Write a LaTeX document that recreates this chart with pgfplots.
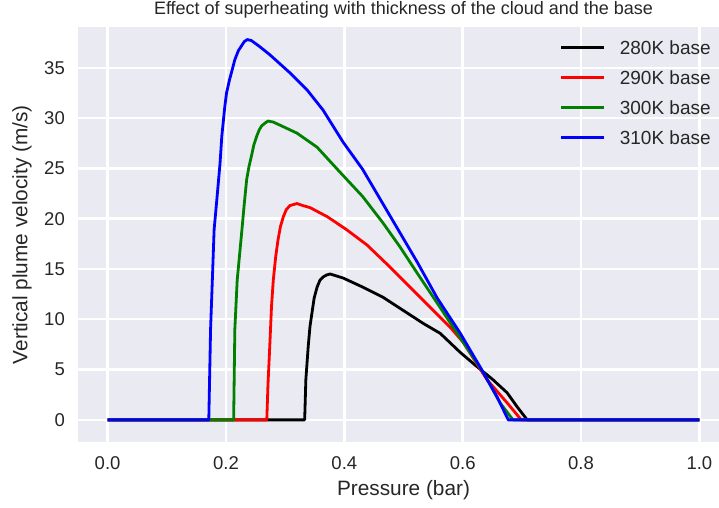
\documentclass[border=0pt]{standalone}
\usepackage{fontspec}
\setmainfont{Liberation Sans}
\usepackage{pgfplots}
\pgfplotsset{compat=1.18}
\definecolor{bg}{RGB}{234,234,242}
\definecolor{tickgray}{gray}{0.15}
\definecolor{mplgreen}{rgb}{0,0.5,0}
\begin{document}
\begin{tikzpicture}
\begin{axis}[
  at={(0pt,0pt)}, anchor=south west,
  scale only axis, width=651pt, height=414.5pt,
  xmin=-0.05, xmax=1.05, ymin=-2.2, ymax=39.0,
  axis background/.style={fill=bg},
  axis line style={draw=none},
  grid=major, major grid style={white, line width=2.4pt},
  major tick length=0pt,
  xtick={0,0.2,0.4,0.6,0.8,1.0},
  xticklabels={0.0,0.2,0.4,0.6,0.8,1.0},
  ytick={0,5,10,15,20,25,30,35},
  /pgf/number format/assume math mode=true,
  ticklabel style={font=\fontsize{18.5}{22}\selectfont, text=tickgray},
  xticklabel style={inner sep=0pt, yshift=-14pt},
  yticklabel style={inner sep=0pt, xshift=-13pt},
  xlabel={Pressure (bar)},
  ylabel={Vertical plume velocity (m/s)},
  label style={font=\fontsize{20.8}{24}\selectfont, text=tickgray},
  xlabel style={at={(axis description cs:0.5,-0.1158)}, anchor=center},
  ylabel style={at={(axis description cs:-0.086,0.5)}, anchor=center},
  title={Effect of superheating with thickness of the cloud and the base},
  title style={at={(axis description cs:0.5,1)}, anchor=base, yshift=7pt,
    font=\fontsize{18}{22}\selectfont, text=tickgray},
  legend style={at={(rel axis cs:0.7404,0.971)}, anchor=north west,
    draw=none, fill=none, inner sep=0pt, outer sep=0pt,
    row sep=13.5pt, column sep=14pt,
    font=\fontsize{19}{22}\selectfont, text=tickgray,
    nodes={inner sep=0pt},
    /tikz/every even column/.append style={text height=15pt, text depth=0pt},
    cells={anchor=west}},
  legend image code/.code={\draw[#1] (0pt,0pt) -- (43pt,0pt);},
  every axis plot/.append style={line width=2.8pt, line join=round},
]
\addplot[black] coordinates {
(0,0) (0.333,0) (0.335,4.0) (0.339,7.3) (0.342,9.3) (0.349,12.1) (0.354,13.2)
(0.359,13.9) (0.364,14.2) (0.370,14.4) (0.376,14.5) (0.387,14.3) (0.398,14.1)
(0.431,13.2) (0.465,12.2) (0.499,10.9) (0.533,9.6)
(0.562,8.6) (0.596,6.7) (0.624,5.3) (0.651,4.0) (0.675,2.7) (0.692,1.3)
(0.709,0) (1.0,0)};
\addlegendentry{280K base}
\addplot[red] coordinates {
(0,0) (0.269,0) (0.271,3.5) (0.274,7.3) (0.277,11.3) (0.280,13.9) (0.284,16.2)
(0.288,17.9) (0.292,19.2) (0.297,20.2) (0.302,20.9) (0.308,21.3) (0.314,21.4)
(0.320,21.5) (0.330,21.3) (0.342,21.1) (0.371,20.2) (0.404,18.9) (0.438,17.4)
(0.477,15.2) (0.511,13.2) (0.545,11.2) (0.579,9.2) (0.601,7.7) (0.641,4.0)
(0.675,1.7) (0.699,0) (1.0,0)};
\addlegendentry{290K base}
\addplot[mplgreen] coordinates {
(0,0) (0.213,0) (0.215,9.0) (0.219,13.9) (0.227,18.9) (0.231,21.5) (0.235,23.9)
(0.239,25.2) (0.243,26.2) (0.247,27.3) (0.252,28.2) (0.256,28.8) (0.260,29.2)
(0.266,29.5) (0.271,29.7) (0.280,29.6) (0.291,29.3) (0.320,28.5) (0.354,27.1)
(0.393,24.6) (0.431,22.2) (0.465,19.6) (0.494,17.2) (0.523,14.6) (0.557,11.6)
(0.601,7.7) (0.635,4.7) (0.663,1.7) (0.685,0) (1.0,0)};
\addlegendentry{300K base}
\addplot[blue] coordinates {
(0,0) (0.171,0) (0.174,9.0) (0.177,13.9) (0.180,18.9) (0.184,21.5) (0.190,25.5)
(0.193,28.2) (0.198,31.1) (0.201,32.5) (0.206,33.8) (0.211,34.9) (0.215,35.8)
(0.221,36.7) (0.231,37.6) (0.236,37.8) (0.243,37.7) (0.257,37.1) (0.274,36.3)
(0.308,34.5) (0.337,32.8) (0.364,30.8) (0.398,27.6) (0.431,24.9) (0.460,22.0)
(0.494,18.6) (0.523,15.7) (0.557,12.1) (0.596,8.6) (0.629,5.3) (0.658,2.3)
(0.677,0) (1.0,0)};
\addlegendentry{310K base}
\end{axis}
\pgfresetboundingbox
\useasboundingbox (-78pt,-65pt) rectangle (641pt,442pt);
\end{tikzpicture}
\end{document}
